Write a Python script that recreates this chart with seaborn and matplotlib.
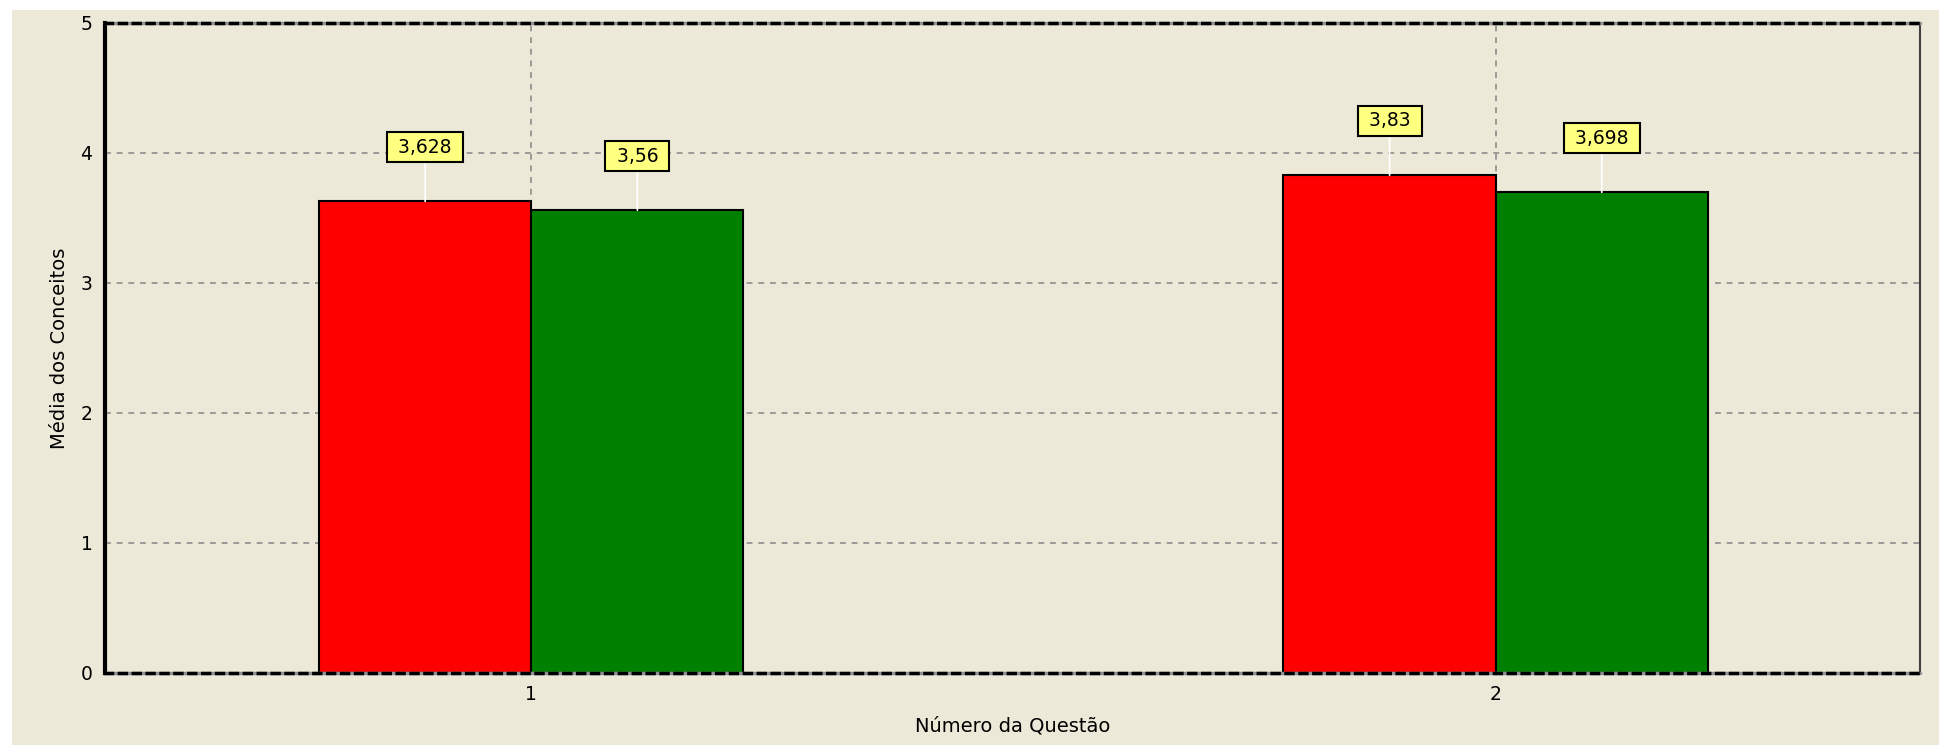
import pandas as pd
import matplotlib.pyplot as plt
import seaborn as sns
from matplotlib.ticker import MultipleLocator
from matplotlib.patches import Rectangle

# Data
questoes = ["1", "1", "2", "2"]
grupos = ["Grupo A", "Grupo B", "Grupo A", "Grupo B"]
medias = [3.628, 3.56, 3.83, 3.698]
rotulos = ["3,628", "3,56", "3,83", "3,698"]

cores = {"Grupo A": "#FF0000", "Grupo B": "#008000"}
bege = "#ECE9D8"

df = pd.DataFrame({"questao": questoes, "grupo": grupos, "media": medias})

sns.set_style("white")
plt.rcParams["font.family"] = ["DejaVu Sans"]
plt.rcParams["text.color"] = "black"
plt.rcParams["axes.labelcolor"] = "black"
plt.rcParams["xtick.labelcolor"] = "black"
plt.rcParams["ytick.labelcolor"] = "black"

fig = plt.figure(figsize=(19.39, 7.45), dpi=100)
fig.patch.set_facecolor("white")
fig.patches.append(Rectangle((12 / 1939, 0), 1, 1 - 10 / 745, transform=fig.transFigure,
                             facecolor=bege, edgecolor="none", zorder=-1))
ax = fig.add_axes([105 / 1939, 1 - 673 / 745, (1920 - 105) / 1939, (673 - 23) / 745])
ax.set_facecolor(bege)

sns.barplot(data=df, x="questao", y="media", hue="grupo", palette=cores,
            saturation=1, width=0.44, gap=0, edgecolor="black", linewidth=1.5,
            legend=False, ax=ax, zorder=3)

# value labels in yellow boxes, bars sorted left to right
barras = sorted(ax.patches, key=lambda p: p.get_x())
for bar, txt in zip(barras, rotulos):
    cx = bar.get_x() + bar.get_width() / 2
    h = bar.get_height()
    ax.annotate(" " + txt + " ", xy=(cx, h), xytext=(0, 39), textcoords="offset points",
                ha="center", va="center", fontsize=13.5, color="black", zorder=5,
                bbox=dict(boxstyle="square,pad=0.28", facecolor="#FFFF80",
                          edgecolor="black", linewidth=1.5),
                arrowprops=dict(arrowstyle="-", color="white", lw=1.3,
                                shrinkA=0, shrinkB=0))

ax.set_ylim(0, 5)
ax.set_xlim(-0.442, 1.44)
ax.set_yticks([0, 1, 2, 3, 4, 5])
ax.yaxis.set_minor_locator(MultipleLocator(0.25))
ax.xaxis.set_minor_locator(MultipleLocator(0.25))

ax.grid(True, which="major", color="#8C8C8C", linestyle=(0, (3.5, 3.5)), linewidth=1.2, zorder=0)
ax.set_axisbelow(True)

ax.tick_params(axis="both", which="major", length=5, width=1, color="#808080",
               labelsize=13.5, direction="out", pad=4)
ax.tick_params(axis="both", which="minor", length=2, width=1, color="#808080", direction="out")

ax.set_xlabel("Número da Questão", fontsize=14, labelpad=9)
ax.set_ylabel("Média dos Conceitos", fontsize=14, labelpad=8)

# border styles
ax.axhline(0, color="#909090", lw=2.5, zorder=4, clip_on=False)
ax.axhline(5, color="#909090", lw=2.5, zorder=4, clip_on=False)
for s in ["top", "bottom"]:
    ax.spines[s].set_linestyle((0, (2, 2)))
    ax.spines[s].set_linewidth(2.5)
    ax.spines[s].set_color("black")
    ax.spines[s].set_zorder(5)
ax.spines["left"].set_linewidth(3)
ax.spines["left"].set_color("black")
ax.spines["right"].set_linewidth(1.5)
ax.spines["right"].set_color("#404040")

fig.savefig("out.png", dpi=100, facecolor=fig.get_facecolor())
